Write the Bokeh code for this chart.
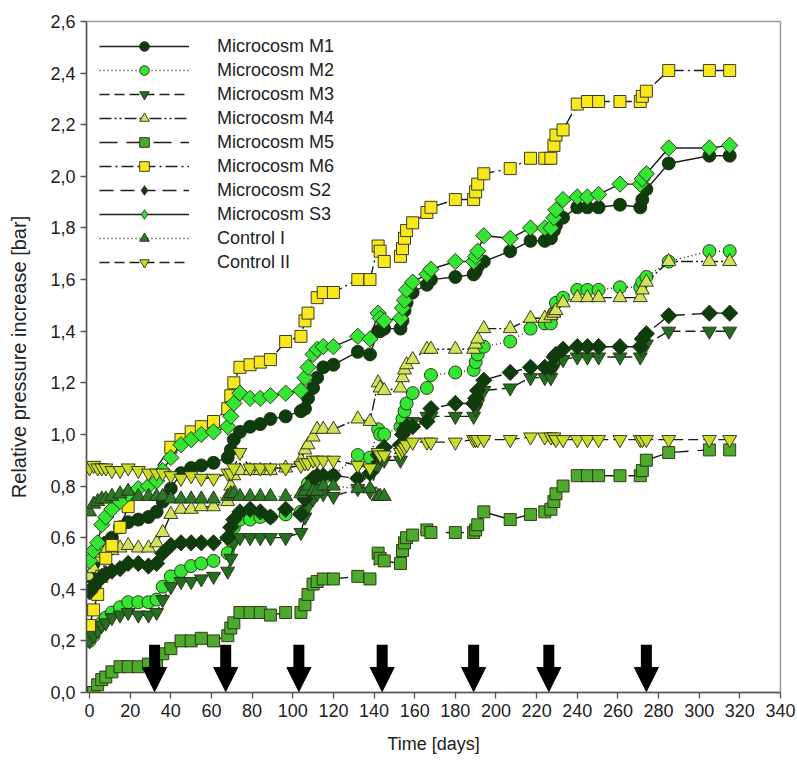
import math
from bokeh.plotting import figure
from bokeh.models import (FixedTicker, CustomJSTickFormatter, Legend, LegendItem,
                          Arrow, NormalHead, Range1d, ColumnDataSource)
from bokeh.embed import file_html
from bokeh.resources import INLINE

# ---------------- data ----------------
DAYS = [0, 2, 4, 6, 8, 11, 15, 19, 24, 29,
        33, 36, 40, 45, 50, 55, 61, 68, 69.5, 71,
        74, 79, 84, 89, 96.5, 104, 106, 107.5, 110, 112,
        115, 120, 132, 138, 142, 143, 145, 153, 154, 155,
        156, 159, 166, 168, 180, 189, 190, 191, 194, 207,
        217, 224, 227, 228.5, 229.5, 233, 240, 245, 250.5, 261,
        271, 272, 274, 285, 305, 315]

M1 = [0.45, 0.50, 0.53, 0.56, 0.58, 0.60, 0.64, 0.66, 0.67, 0.68,
      0.70, 0.74, 0.79, 0.85, 0.87, 0.88, 0.89, 0.91, 0.94, 0.98,
      1.01, 1.03, 1.04, 1.06, 1.07, 1.09, 1.10, 1.14, 1.18, 1.22,
      1.26, 1.27, 1.32, 1.31, 1.40, 1.40, 1.41, 1.41, 1.44, 1.48,
      1.51, 1.55, 1.58, 1.60, 1.61, 1.62, 1.63, 1.65, 1.67, 1.71,
      1.75, 1.75, 1.76, 1.79, 1.81, 1.84, 1.88, 1.88, 1.88, 1.89,
      1.88, 1.91, 1.95, 2.05, 2.08, 2.08]

M2 = [0.20, 0.22, 0.25, 0.27, 0.29, 0.31, 0.33, 0.35, 0.35, 0.35,
      0.36, 0.41, 0.45, 0.47, 0.49, 0.50, 0.51, 0.54, 0.59, 0.64,
      0.67, 0.67, 0.68, 0.68, 0.69, 0.70, 0.78, 0.81, 0.82, 0.83,
      0.83, 0.84, 0.92, 0.91, 1.02, 1.00, 1.00, 1.03, 1.06, 1.09,
      1.12, 1.16, 1.18, 1.23, 1.24, 1.25, 1.28, 1.31, 1.34, 1.36,
      1.41, 1.43, 1.43, 1.47, 1.51, 1.53, 1.56, 1.56, 1.56, 1.57,
      1.57, 1.59, 1.61, 1.67, 1.71, 1.71]

M3 = [0.20, 0.22, 0.24, 0.26, 0.27, 0.29, 0.30, 0.31, 0.30, 0.30,
      0.31, 0.36, 0.41, 0.43, 0.43, 0.44, 0.45, 0.47, 0.52, 0.58,
      0.60, 0.60, 0.60, 0.60, 0.60, 0.62, 0.68, 0.72, 0.75, 0.77,
      0.77, 0.76, 0.79, 0.78, 0.88, 0.91, 0.90, 0.90, 0.95, 1.00,
      1.03, 1.05, 1.07, 1.07, 1.07, 1.07, 1.10, 1.12, 1.17, 1.18,
      1.22, 1.22, 1.22, 1.26, 1.28, 1.29, 1.30, 1.30, 1.30, 1.30,
      1.30, 1.33, 1.35, 1.40, 1.40, 1.40]

M4 = [0.45, 0.48, 0.52, 0.54, 0.55, 0.55, 0.56, 0.57, 0.56, 0.56,
      0.58, 0.62, 0.69, 0.71, 0.71, 0.72, 0.72, 0.74, 0.80, 0.84,
      0.86, 0.86, 0.86, 0.86, 0.87, 0.90, 0.94, 0.96, 0.99, 1.02,
      1.02, 1.02, 1.06, 1.05, 1.20, 1.18, 1.17, 1.18, 1.22, 1.25,
      1.27, 1.29, 1.33, 1.33, 1.33, 1.33, 1.35, 1.37, 1.41, 1.41,
      1.45, 1.45, 1.46, 1.47, 1.48, 1.51, 1.53, 1.53, 1.53, 1.53,
      1.53, 1.56, 1.59, 1.67, 1.67, 1.67]

M5 = [0.00, 0.00, 0.03, 0.05, 0.06, 0.08, 0.10, 0.10, 0.10, 0.11,
      0.12, 0.15, 0.17, 0.20, 0.20, 0.21, 0.20, 0.22, 0.25, 0.27,
      0.31, 0.31, 0.31, 0.30, 0.31, 0.31, 0.34, 0.38, 0.42, 0.43,
      0.44, 0.44, 0.45, 0.44, 0.54, 0.52, 0.51, 0.50, 0.55, 0.58,
      0.60, 0.61, 0.63, 0.62, 0.62, 0.62, 0.63, 0.65, 0.70, 0.67,
      0.69, 0.70, 0.71, 0.74, 0.77, 0.80, 0.84, 0.84, 0.84, 0.84,
      0.84, 0.86, 0.90, 0.93, 0.94, 0.94]

M6 = [0.26, 0.32, 0.38, 0.45, 0.52, 0.57, 0.64, 0.72, None, None,
      None, None, 0.95, 0.98, 1.01, 1.03, 1.05, 1.10, 1.15, 1.20,
      1.26, 1.27, 1.28, 1.29, 1.36, 1.38, 1.44, 1.47, None, 1.53,
      1.55, 1.55, 1.60, 1.60, 1.73, 1.71, 1.67, 1.69, 1.72, 1.76,
      1.79, 1.82, 1.86, 1.88, 1.91, 1.91, 1.94, 1.97, 2.01, 2.03,
      2.07, 2.07, 2.07, 2.12, 2.16, 2.18, 2.28, 2.29, 2.29, 2.29,
      2.29, 2.31, 2.33, 2.41, 2.41, 2.41]

S2 = [0.39, 0.41, 0.43, 0.45, 0.46, 0.47, 0.48, 0.50, 0.50, 0.49,
      0.50, 0.54, 0.57, 0.58, 0.58, 0.58, 0.58, 0.60, 0.64, 0.67,
      0.70, 0.71, 0.70, 0.68, 0.71, 0.69, 0.75, 0.79, 0.83, 0.84,
      0.84, 0.84, 0.83, 0.85, 0.92, 0.93, 0.95, 0.96, 1.00, 1.02,
      1.03, 1.03, 1.05, 1.10, 1.12, 1.12, 1.14, 1.17, 1.21, 1.24,
      1.26, 1.26, 1.26, 1.30, 1.31, 1.33, 1.34, 1.34, 1.34, 1.34,
      1.34, 1.37, 1.39, 1.46, 1.47, 1.47]

S3 = [0.51, 0.55, 0.58, 0.65, 0.68, 0.71, 0.74, 0.77, 0.79, 0.80,
      0.82, 0.86, 0.91, 0.96, 0.98, 1.00, 1.01, 1.03, 1.07, 1.12,
      1.16, 1.14, 1.14, 1.15, 1.16, 1.17, 1.22, 1.26, 1.31, 1.33,
      1.34, 1.34, 1.38, 1.37, 1.47, 1.45, 1.44, 1.45, 1.49, 1.52,
      1.56, 1.59, 1.62, 1.64, 1.67, 1.67, 1.69, 1.71, 1.77, 1.76,
      1.80, 1.80, 1.80, 1.84, 1.87, 1.91, 1.92, 1.92, 1.93, 1.97,
      1.97, 1.99, 2.01, 2.11, 2.11, 2.12]

CONTROL_I = [0.70, 0.73, 0.74, 0.75, 0.75, 0.76, 0.77, 0.78, 0.76, 0.76,
             0.76, 0.76, 0.75, 0.75, 0.75, 0.75, 0.75, 0.76, 0.77, 0.77,
             0.76, 0.76, 0.76, 0.76, 0.76, 0.77, 0.78, 0.80, 0.78, 0.78,
             0.80, 0.80, 0.79, 0.79, 0.76, 0.76, 0.76] + [None] * 29

CONTROL_II = [0.87, 0.88, 0.87, 0.87, 0.87, 0.86, 0.86, 0.87, 0.86, 0.85,
              0.85, 0.85, 0.84, 0.83, 0.84, 0.83, 0.83, 0.85, 0.85, 0.87,
              0.93, 0.87, 0.87, 0.87, 0.87, 0.88, 0.89, 0.89, 0.90, 0.90,
              0.90, 0.90, 0.88, 0.87, 0.93, 0.92, 0.92, 0.93, 0.94, 0.95,
              0.96, 0.97, 0.97, 0.97, 0.97, 0.98, 0.98, 0.98, 0.98, 0.98,
              0.99, 0.99, 0.99, 0.99, 0.98, 0.98, 0.98, 0.98, 0.98, 0.98,
              0.98, 0.98, 0.98, 0.98, 0.98, 0.98]

NAMES = ["Microcosm M1", "Microcosm M2", "Microcosm M3", "Microcosm M4",
         "Microcosm M5", "Microcosm M6", "Microcosm S2", "Microcosm S3",
         "Control I", "Control II"]

ARROW_DAYS = [32, 67, 103, 144, 189, 226, 274]

X_TICKS = [0, 20, 40, 60, 80, 100, 120, 140, 160, 180, 200, 220, 240, 260,
           280, 300, 320, 340]
Y_TICKS = [0.0, 0.2, 0.4, 0.6, 0.8, 1.0, 1.2, 1.4, 1.6, 1.8, 2.0, 2.2, 2.4, 2.6]

# ---------------- styles ----------------
SERIES = [M1, M2, M3, M4, M5, M6, S2, S3, CONTROL_I, CONTROL_II]
MARKERS = ["circle", "circle", "inverted_triangle", "triangle", "square",
           "square", "square", "square", "triangle", "inverted_triangle"]
ANGLES = [0, 0, 0, 0, 0, 0, math.pi / 4, math.pi / 4, 0, 0]
SIZES = [13, 13, 14, 14, 12, 12, 11.5, 11.5, 14, 14]
FILLS = ["#0c3d0c", "#33e633", "#226f22", "#d2e25a", "#4caa2c",
         "#f7e81e", "#0c3d0c", "#33e633", "#2a7a2a", "#c8dc2a"]
DASHES = ["solid", "1 3", "10 5", "12 3 2 3 2 3", "18 9",
          "12 4 2 4", "14 7", "solid", "1 3", "10 5"]

FONT = "Liberation Sans"

p = figure(width=797, height=767, output_backend="svg", toolbar_location=None,
           x_range=Range1d(-1.5, 340), y_range=Range1d(0, 2.6),
           min_border_left=86, min_border_right=17, min_border_top=21,
           min_border_bottom=75)
p.grid.visible = False
p.outline_line_color = "#9a9a9a"
p.outline_line_width = 1.5

items = []
for name, vals, mk, ang, sz, fc, dash in zip(NAMES, SERIES, MARKERS, ANGLES,
                                              SIZES, FILLS, DASHES):
    xs = [d for d, v in zip(DAYS, vals) if v is not None]
    ys = [v for v in vals if v is not None]
    src = ColumnDataSource(dict(x=xs, y=ys))
    lr = p.line("x", "y", source=src, line_color="#1c1c1c", line_width=1.4,
                line_dash=dash)
    sr = p.scatter("x", "y", source=src, marker=mk, size=sz, angle=ang,
                   fill_color=fc, line_color="#2a2a10", line_width=0.9)
    key = sr
    if ang:
        # the legend ignores the rotation, so the key uses a diamond glyph
        # bound to the same points but drawn too small to be seen in the plot
        key = p.scatter("x", "y", source=src, marker="diamond", size=0.1,
                        fill_color=fc, line_color="#2a2a10", line_width=0.9)
    items.append(LegendItem(label=name, renderers=[lr, key]))

# arrows (treatment events)
p.segment(x0=ARROW_DAYS, y0=[0.185] * len(ARROW_DAYS), x1=ARROW_DAYS,
          y1=[0.07] * len(ARROW_DAYS), line_width=11, line_color="black")
for d in ARROW_DAYS:
    p.add_layout(Arrow(end=NormalHead(size=24, fill_color="black", line_color="black"),
                       x_start=d, y_start=0.09, x_end=d, y_end=0.004,
                       line_alpha=0, line_width=1))

legend = Legend(items=items, location="top_left", margin=7, padding=6,
                glyph_width=90, glyph_height=24, spacing=0, label_standoff=28,
                label_height=20,
                label_text_font=FONT, label_text_font_size="18px",
                label_text_color="#222222", border_line_alpha=0,
                background_fill_alpha=0)
p.add_layout(legend)

for ax in (p.xaxis[0], p.yaxis[0]):
    ax.axis_line_color = "#555555"
    ax.axis_line_width = 1.5
    ax.major_tick_line_color = "#555555"
    ax.major_tick_line_width = 1.3
    ax.major_tick_out = 6
    ax.major_tick_in = 0
    ax.minor_tick_line_color = None
    ax.major_label_text_font = FONT
    ax.major_label_text_font_size = "18px"
    ax.major_label_text_color = "#222222"
    ax.axis_label_text_font = FONT
    ax.axis_label_text_font_style = "normal"
    ax.axis_label_text_color = "#222222"

p.xaxis.axis_label_text_font_size = "18px"
p.yaxis.axis_label_text_font_size = "20px"
p.xaxis.ticker = FixedTicker(ticks=X_TICKS)
p.yaxis.ticker = FixedTicker(ticks=Y_TICKS)
p.yaxis.formatter = CustomJSTickFormatter(code="return tick.toFixed(1).replace('.', ',');")
p.xaxis.axis_label = "Time [days]"
p.yaxis.axis_label = "Relative pressure increase [bar]"
p.xaxis.major_label_standoff = 5
p.yaxis.major_label_standoff = 5
p.xaxis.axis_label_standoff = 14
p.yaxis.axis_label_standoff = 17

open("out.html", "w").write(file_html(p, INLINE))
